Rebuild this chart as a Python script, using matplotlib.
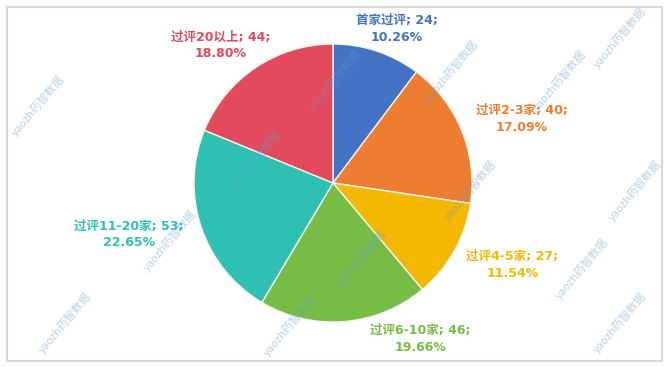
import matplotlib.pyplot as plt
from matplotlib.patches import Rectangle

plt.rcParams['font.family'] = ['Noto Sans CJK SC', 'DejaVu Sans']

# data
categories = ['首家过评', '过评2-3家', '过评4-5家', '过评6-10家', '过评11-20家', '过评20以上']
counts = [24, 40, 27, 46, 53, 44]
colors = ['#4472C4', '#ED7D31', '#F4B800', '#77BC45', '#2EC1B1', '#E44A5E']

# canvas in pixel units (y up)
fig = plt.figure(figsize=(6.69, 3.67), dpi=100)
ax = fig.add_axes([0, 0, 1, 1])

cx, cy, r = 333, 184, 139
ax.pie(counts, colors=colors, startangle=90, counterclock=False,
       center=(cx, cy), radius=r,
       wedgeprops=dict(edgecolor='#f4f4ec', linewidth=1))
ax.set_xlim(0, 669)
ax.set_ylim(0, 367)
ax.set_aspect('equal')
ax.axis('off')

# outer frame
ax.add_patch(Rectangle((6.5, 6.5), 655, 354, fill=False,
                       edgecolor='#d9d9d9', linewidth=1.5))

# data labels (offsets in pie radii from the centre)
label_pos = [(0.46, 1.11), (1.36, 0.46), (1.29, -0.59),
             (0.63, -1.12), (-1.47, -0.37), (-0.81, 0.99)]
total = sum(counts)
for name, v, c, (dx, dy) in zip(categories, counts, colors, label_pos):
    ax.text(cx + dx * r, cy + dy * r, f'{name}; {v};\n{v / total * 100:.2f}%',
            ha='center', va='center', color=c, fontsize=9,
            family=['DejaVu Sans', 'Noto Sans CJK SC'],
            fontweight='bold', linespacing=1.4)

# watermark
marks = [(335, 287), (452, 297), (560, 287), (620, 330), (38, 262),
         (255, 207), (470, 177), (635, 177), (170, 127), (360, 107),
         (582, 99), (65, 45), (290, 42), (620, 45)]
for x, y in marks:
    ax.text(x, y, 'yaozh药智数据', rotation=50, ha='center', va='center',
            color='#5b9bd5', alpha=0.45, fontsize=8)

fig.savefig('out.png', dpi=100)
